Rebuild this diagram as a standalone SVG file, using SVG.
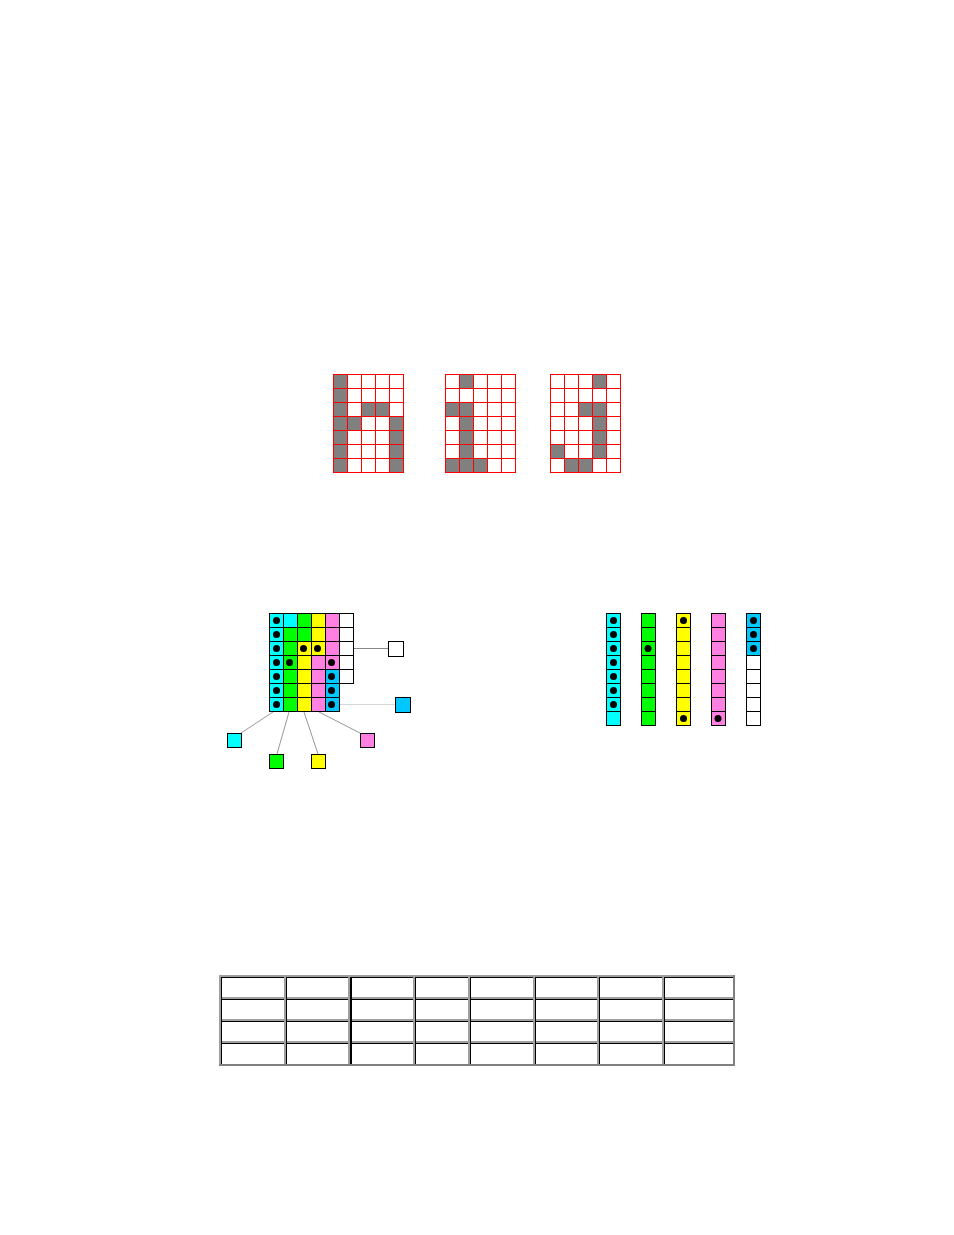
<svg xmlns="http://www.w3.org/2000/svg" width="954" height="1235" viewBox="0 0 954 1235">
<defs>
<style>
.g{fill:#808080}
.rl{stroke:#ff0000;stroke-width:1;fill:none}
.c{stroke:#000;stroke-width:1}
.cy{fill:#00ffff}.gr{fill:#00ff00}.ye{fill:#ffff00}.pk{fill:#ff80e0}.bl{fill:#00c8ff}.wh{fill:#fff}
.dot{fill:#000}
.conn{stroke:#999;stroke-width:1;fill:none}
.cell{fill:#fff}
.tb{fill:#000}
</style>
<pattern id="rg" x="0" y="0" width="14" height="14" patternUnits="userSpaceOnUse"><path d="M0 0.5H14M0.5 0V14" stroke="#ff0000" stroke-width="1" fill="none"/></pattern>
</defs>
<rect width="954" height="1235" fill="#fff"/>

<!-- Grid 1 -->
<g id="grid1" transform="translate(333,374)">
<g class="g">
<rect x="0" y="0" width="14" height="98"/>
<rect x="28" y="28" width="28" height="14"/>
<rect x="14" y="42" width="14" height="14"/>
<rect x="56" y="42" width="14" height="56"/>
</g>
<path class="rl" d="M0.5 0V98M14.5 0V98M28.5 0V98M42.5 0V98M56.5 0V98M70.5 0V98M0 0.5H71M0 14.5H71M0 28.5H71M0 42.5H71M0 56.5H71M0 70.5H71M0 84.5H71M0 98.5H71"/>
</g>

<!-- Grid 2 -->
<g id="grid2" transform="translate(445,374)">
<g class="g">
<rect x="14" y="0" width="14" height="14"/>
<rect x="0" y="28" width="28" height="14"/>
<rect x="14" y="42" width="14" height="42"/>
<rect x="0" y="84" width="42" height="14"/>
</g>
<path class="rl" d="M0.5 0V98M14.5 0V98M28.5 0V98M42.5 0V98M56.5 0V98M70.5 0V98M0 0.5H71M0 14.5H71M0 28.5H71M0 42.5H71M0 56.5H71M0 70.5H71M0 84.5H71M0 98.5H71"/>
</g>

<!-- Grid 3 -->
<g id="grid3" transform="translate(550,374)">
<g class="g">
<rect x="42" y="0" width="14" height="14"/>
<rect x="28" y="28" width="28" height="14"/>
<rect x="42" y="42" width="14" height="42"/>
<rect x="0" y="70" width="14" height="14"/>
<rect x="14" y="84" width="28" height="14"/>
</g>
<path class="rl" d="M0.5 0V98M14.5 0V98M28.5 0V98M42.5 0V98M56.5 0V98M70.5 0V98M0 0.5H71M0 14.5H71M0 28.5H71M0 42.5H71M0 56.5H71M0 70.5H71M0 84.5H71M0 98.5H71"/>
</g>

<!-- Connectors -->
<g id="connectors">
<line x1="353" y1="648.5" x2="388" y2="648.5" stroke="#888" stroke-width="1"/>
<line x1="340" y1="704.5" x2="395" y2="704.5" stroke="#d8d8d8" stroke-width="1"/>
<line class="conn" x1="273" y1="712" x2="241" y2="733"/>
<line class="conn" x1="289" y1="712" x2="277" y2="754"/>
<line class="conn" x1="304" y1="712" x2="318" y2="754"/>
<line class="conn" x1="319" y1="712" x2="360" y2="733"/>
</g>

<!-- Color grid -->
<g id="colorgrid" transform="translate(269.5,613.5)">
<g class="c">
<!-- col 0 -->
<rect class="cy" x="0" y="0" width="14" height="14"/>
<rect class="cy" x="0" y="14" width="14" height="14"/>
<rect class="cy" x="0" y="28" width="14" height="14"/>
<rect class="cy" x="0" y="42" width="14" height="14"/>
<rect class="cy" x="0" y="56" width="14" height="14"/>
<rect class="cy" x="0" y="70" width="14" height="14"/>
<rect class="cy" x="0" y="84" width="14" height="14"/>
<!-- col 1 -->
<rect class="cy" x="14" y="0" width="14" height="14"/>
<rect class="gr" x="14" y="14" width="14" height="14"/>
<rect class="gr" x="14" y="28" width="14" height="14"/>
<rect class="gr" x="14" y="42" width="14" height="14"/>
<rect class="gr" x="14" y="56" width="14" height="14"/>
<rect class="gr" x="14" y="70" width="14" height="14"/>
<rect class="gr" x="14" y="84" width="14" height="14"/>
<!-- col 2 -->
<rect class="gr" x="28" y="0" width="14" height="14"/>
<rect class="gr" x="28" y="14" width="14" height="14"/>
<rect class="ye" x="28" y="28" width="14" height="14"/>
<rect class="ye" x="28" y="42" width="14" height="14"/>
<rect class="ye" x="28" y="56" width="14" height="14"/>
<rect class="ye" x="28" y="70" width="14" height="14"/>
<rect class="ye" x="28" y="84" width="14" height="14"/>
<!-- col 3 -->
<rect class="ye" x="42" y="0" width="14" height="14"/>
<rect class="ye" x="42" y="14" width="14" height="14"/>
<rect class="ye" x="42" y="28" width="14" height="14"/>
<rect class="pk" x="42" y="42" width="14" height="14"/>
<rect class="pk" x="42" y="56" width="14" height="14"/>
<rect class="pk" x="42" y="70" width="14" height="14"/>
<rect class="pk" x="42" y="84" width="14" height="14"/>
<!-- col 4 -->
<rect class="pk" x="56" y="0" width="14" height="14"/>
<rect class="pk" x="56" y="14" width="14" height="14"/>
<rect class="pk" x="56" y="28" width="14" height="14"/>
<rect class="pk" x="56" y="42" width="14" height="14"/>
<rect class="bl" x="56" y="56" width="14" height="14"/>
<rect class="bl" x="56" y="70" width="14" height="14"/>
<rect class="bl" x="56" y="84" width="14" height="14"/>
<!-- col 5 -->
<rect class="wh" x="70" y="0" width="14" height="14"/>
<rect class="wh" x="70" y="14" width="14" height="14"/>
<rect class="wh" x="70" y="28" width="14" height="14"/>
<rect class="wh" x="70" y="42" width="14" height="14"/>
<rect class="wh" x="70" y="56" width="14" height="14"/>
</g>
<g class="dot">
<circle cx="7" cy="7" r="3.5"/><circle cx="7" cy="21" r="3.5"/><circle cx="7" cy="35" r="3.5"/><circle cx="7" cy="49" r="3.5"/><circle cx="7" cy="63" r="3.5"/><circle cx="7" cy="77" r="3.5"/><circle cx="7" cy="91" r="3.5"/>
<circle cx="34" cy="35" r="3.5"/><circle cx="48" cy="35" r="3.5"/>
<circle cx="20" cy="49" r="3.5"/><circle cx="62" cy="49" r="3.5"/>
<circle cx="62" cy="63" r="3.5"/><circle cx="62" cy="77" r="3.5"/><circle cx="62" cy="91" r="3.5"/>
</g>
</g>

<!-- Legend squares -->
<g id="sq-white"><rect class="c wh" x="388.5" y="641.5" width="15" height="15"/></g>
<g id="sq-blue"><rect class="c bl" x="395.5" y="697.5" width="15" height="15"/></g>
<g id="sq-cyan"><rect class="c cy" x="227.5" y="733.5" width="14" height="14"/></g>
<g id="sq-green"><rect class="c gr" x="269.5" y="754.5" width="14" height="14"/></g>
<g id="sq-yellow"><rect class="c ye" x="311.5" y="754.5" width="14" height="14"/></g>
<g id="sq-pink"><rect class="c pk" x="360.5" y="733.5" width="14" height="14"/></g>

<!-- Columns -->
<g id="col-cyan" transform="translate(606.5,613.5)">
<g class="c"><rect class="cy" x="0" y="0" width="14" height="14"/><rect class="cy" x="0" y="14" width="14" height="14"/><rect class="cy" x="0" y="28" width="14" height="14"/><rect class="cy" x="0" y="42" width="14" height="14"/><rect class="cy" x="0" y="56" width="14" height="14"/><rect class="cy" x="0" y="70" width="14" height="14"/><rect class="cy" x="0" y="84" width="14" height="14"/><rect class="cy" x="0" y="98" width="14" height="14"/></g>
<g class="dot"><circle cx="7" cy="7" r="3.5"/><circle cx="7" cy="21" r="3.5"/><circle cx="7" cy="35" r="3.5"/><circle cx="7" cy="49" r="3.5"/><circle cx="7" cy="63" r="3.5"/><circle cx="7" cy="77" r="3.5"/><circle cx="7" cy="91" r="3.5"/></g>
</g>
<g id="col-green" transform="translate(641.5,613.5)">
<g class="c"><rect class="gr" x="0" y="0" width="14" height="14"/><rect class="gr" x="0" y="14" width="14" height="14"/><rect class="gr" x="0" y="28" width="14" height="14"/><rect class="gr" x="0" y="42" width="14" height="14"/><rect class="gr" x="0" y="56" width="14" height="14"/><rect class="gr" x="0" y="70" width="14" height="14"/><rect class="gr" x="0" y="84" width="14" height="14"/><rect class="gr" x="0" y="98" width="14" height="14"/></g>
<g class="dot"><circle cx="6.5" cy="35" r="3.5"/></g>
</g>
<g id="col-yellow" transform="translate(676.5,613.5)">
<g class="c"><rect class="ye" x="0" y="0" width="14" height="14"/><rect class="ye" x="0" y="14" width="14" height="14"/><rect class="ye" x="0" y="28" width="14" height="14"/><rect class="ye" x="0" y="42" width="14" height="14"/><rect class="ye" x="0" y="56" width="14" height="14"/><rect class="ye" x="0" y="70" width="14" height="14"/><rect class="ye" x="0" y="84" width="14" height="14"/><rect class="ye" x="0" y="98" width="14" height="14"/></g>
<g class="dot"><circle cx="7" cy="7" r="3.5"/><circle cx="7" cy="105" r="3.5"/></g>
</g>
<g id="col-pink" transform="translate(711.5,613.5)">
<g class="c"><rect class="pk" x="0" y="0" width="14" height="14"/><rect class="pk" x="0" y="14" width="14" height="14"/><rect class="pk" x="0" y="28" width="14" height="14"/><rect class="pk" x="0" y="42" width="14" height="14"/><rect class="pk" x="0" y="56" width="14" height="14"/><rect class="pk" x="0" y="70" width="14" height="14"/><rect class="pk" x="0" y="84" width="14" height="14"/><rect class="pk" x="0" y="98" width="14" height="14"/></g>
<g class="dot"><circle cx="6.5" cy="105" r="3.5"/></g>
</g>
<g id="col-blue" transform="translate(746.5,613.5)">
<g class="c"><rect class="bl" x="0" y="0" width="14" height="14"/><rect class="bl" x="0" y="14" width="14" height="14"/><rect class="bl" x="0" y="28" width="14" height="14"/><rect class="wh" x="0" y="42" width="14" height="14"/><rect class="wh" x="0" y="56" width="14" height="14"/><rect class="wh" x="0" y="70" width="14" height="14"/><rect class="wh" x="0" y="84" width="14" height="14"/><rect class="wh" x="0" y="98" width="14" height="14"/></g>
<g class="dot"><circle cx="7" cy="7" r="3.5"/><circle cx="7" cy="21" r="3.5"/><circle cx="7" cy="35" r="3.5"/></g>
</g>

<!-- Table -->
<g id="table">
<rect x="219" y="975" width="516" height="91" fill="#a0a0a0"/>
<rect x="733" y="975" width="2" height="91" fill="#808080"/>
<rect x="219" y="1064" width="516" height="2" fill="#808080"/>
<g id="cells">
<!-- row y values: 977, 999, 1021, 1043 heights 20/20/20/21 -->
<g fill="#fff" stroke="none">
<rect x="221" y="977" width="63" height="20"/><rect x="286" y="977" width="62" height="20"/><rect x="350" y="977" width="63" height="20"/><rect x="415" y="977" width="53" height="20"/><rect x="470" y="977" width="63" height="20"/><rect x="535" y="977" width="62" height="20"/><rect x="599" y="977" width="63" height="20"/><rect x="664" y="977" width="69" height="20"/>
<rect x="221" y="999" width="63" height="20"/><rect x="286" y="999" width="62" height="20"/><rect x="350" y="999" width="63" height="20"/><rect x="415" y="999" width="53" height="20"/><rect x="470" y="999" width="63" height="20"/><rect x="535" y="999" width="62" height="20"/><rect x="599" y="999" width="63" height="20"/><rect x="664" y="999" width="69" height="20"/>
<rect x="221" y="1021" width="63" height="20"/><rect x="286" y="1021" width="62" height="20"/><rect x="350" y="1021" width="63" height="20"/><rect x="415" y="1021" width="53" height="20"/><rect x="470" y="1021" width="63" height="20"/><rect x="535" y="1021" width="62" height="20"/><rect x="599" y="1021" width="63" height="20"/><rect x="664" y="1021" width="69" height="20"/>
<rect x="221" y="1043" width="63" height="21"/><rect x="286" y="1043" width="62" height="21"/><rect x="350" y="1043" width="63" height="21"/><rect x="415" y="1043" width="53" height="21"/><rect x="470" y="1043" width="63" height="21"/><rect x="535" y="1043" width="62" height="21"/><rect x="599" y="1043" width="63" height="21"/><rect x="664" y="1043" width="69" height="21"/>
</g>
<!-- black top/left edges -->
<path d="M221 977.5H284M286 977.5H348M350 977.5H413M415 977.5H468M470 977.5H533M535 977.5H597M599 977.5H662M664 977.5H733
M221 999.5H284M286 999.5H348M350 999.5H413M415 999.5H468M470 999.5H533M535 999.5H597M599 999.5H662M664 999.5H733
M221 1021.5H284M286 1021.5H348M350 1021.5H413M415 1021.5H468M470 1021.5H533M535 1021.5H597M599 1021.5H662M664 1021.5H733
M221 1043.5H284M286 1043.5H348M350 1043.5H413M415 1043.5H468M470 1043.5H533M535 1043.5H597M599 1043.5H662M664 1043.5H733
M221.5 977V1064M286.5 977V1064M415.5 977V1064M470.5 977V1064M535.5 977V1064M599.5 977V1064M664.5 977V1064" stroke="#000" stroke-width="1" fill="none"/>
<path d="M351 977V1064" stroke="#000" stroke-width="2" fill="none"/>
</g>
</g>
</svg>
